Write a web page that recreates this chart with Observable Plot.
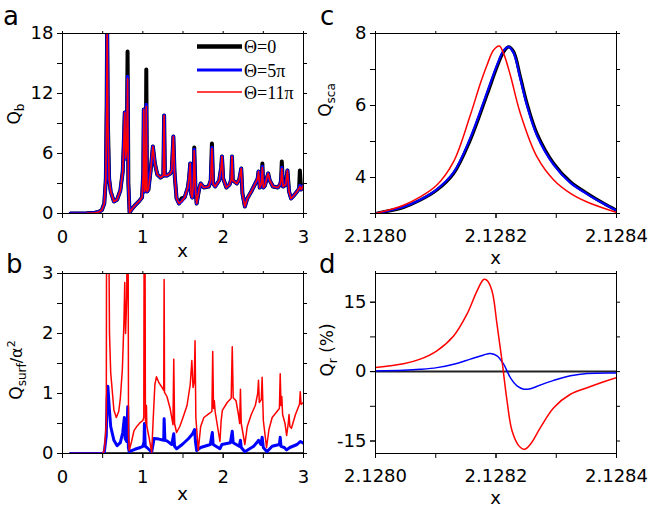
<!DOCTYPE html>
<html><head><meta charset="utf-8">
<script src="https://cdn.jsdelivr.net/npm/d3@7"></script>
<script src="https://cdn.jsdelivr.net/npm/@observablehq/plot@0.6"></script>
<style>
body{margin:0;background:#fff;}
#wrap{position:relative;width:648px;height:509px;overflow:hidden;background:#fff;}
#wrap svg{position:absolute;}
</style></head><body><div id="wrap"></div>
<script>
// ---------- Panel a: Q_b vs x ----------
const aX = [0.10,0.30,0.40,0.45,0.49,0.52,0.54,0.55,0.556,0.565,0.58,0.60,0.64,0.68,0.72,0.75,0.765,0.775,0.785,0.80,0.81,0.82,0.835,0.86,0.90,0.95,0.99,1.005,1.012,1.02,1.035,1.043,1.052,1.07,1.10,1.125,1.15,1.18,1.22,1.255,1.265,1.275,1.30,1.34,1.36,1.38,1.395,1.42,1.45,1.48,1.52,1.56,1.575,1.59,1.60,1.615,1.63,1.64,1.655,1.67,1.70,1.72,1.76,1.82,1.845,1.86,1.875,1.90,1.95,1.975,1.985,2.00,2.04,2.08,2.10,2.11,2.12,2.17,2.20,2.225,2.24,2.27,2.30,2.35,2.40,2.43,2.44,2.455,2.475,2.488,2.50,2.52,2.545,2.56,2.58,2.62,2.68,2.71,2.72,2.73,2.745,2.78,2.80,2.82,2.845,2.88,2.92,2.945,2.955,2.97,3.00];
const aTheta11 = [0,0.02,0.08,0.15,0.35,1.0,3.5,11,19,9,3.5,2.2,1.2,1.4,2.3,4.2,7.5,10.1,5.5,6.5,13.5,3,0.1,0.4,0.8,1.2,1.6,4,10.4,2.2,2.5,10.7,2.2,2.4,4.5,6.7,5.0,3.9,3.6,3.8,9.8,3.8,3.8,4.0,4.3,7.7,4.0,1.5,1.0,1.2,1.6,2.6,3.5,5.0,2.0,1.6,3.0,6.3,2.5,1.0,2.4,3.0,2.6,2.7,3.3,6.5,3.0,2.7,3.3,4.6,5.7,3.5,2.6,2.9,3.4,5.7,3.3,3.0,3.4,4.5,2.0,0.7,1.5,2.2,3.0,3.5,4.2,2.6,3.0,4.6,2.6,2.8,3.6,4.0,3.3,2.7,2.6,2.9,3.3,4.5,2.7,2.9,4.3,2.2,1.5,1.8,2.2,2.5,2.7,2.4,2.8];
const aTheta5 = [0,0.02,0.08,0.15,0.35,1.0,3.5,11,19,9,3.5,2.2,1.2,1.4,2.3,4.2,7.5,10.1,5.5,6.5,13.7,3,0.1,0.4,0.8,1.2,1.6,4,10.4,2.2,2.5,10.9,2.2,2.4,4.5,6.7,5.0,3.9,3.6,3.8,9.8,3.8,3.8,4.0,4.3,7.7,4.0,1.5,1.0,1.2,1.6,2.6,3.5,5.0,2.0,1.6,3.0,6.4,2.5,1.0,2.4,3.0,2.6,2.7,3.3,6.6,3.0,2.7,3.3,4.6,5.7,3.5,2.6,2.9,3.4,5.7,3.3,3.0,3.4,4.5,2.0,0.7,1.5,2.2,3.0,3.5,4.2,2.6,3.0,4.7,2.6,2.8,3.6,4.0,3.3,2.7,2.6,2.9,3.3,4.6,2.7,2.9,4.3,2.2,1.5,1.8,2.2,2.5,2.8,2.4,2.8];
const aTheta0 = [0,0.02,0.08,0.15,0.35,1.0,3.5,11,19,9,3.5,2.2,1.2,1.4,2.3,4.2,7.5,10.1,5.5,6.5,16.2,3,0.1,0.4,0.8,1.2,1.6,4,10.4,2.2,2.5,14.4,2.2,2.4,4.5,6.7,5.0,3.9,3.6,3.8,9.8,3.8,3.8,4.0,4.3,7.7,4.0,1.5,1.0,1.5,1.6,2.6,3.5,5.0,2.0,1.6,3.0,6.6,2.5,1.0,2.4,3.0,2.6,2.7,3.3,7.0,3.0,2.7,3.3,4.6,5.7,3.5,2.6,2.9,3.4,5.7,3.3,3.0,3.4,4.5,2.0,0.7,1.5,2.2,3.0,3.5,4.2,2.6,3.0,5.0,2.6,2.8,3.6,4.0,3.3,2.7,2.6,2.9,3.3,5.2,2.7,2.9,4.3,2.2,1.5,1.8,2.2,2.5,4.3,2.4,2.8];

// ---------- Panel b: Q_surf/alpha^2 vs x ----------
const bRedX = [0.10,0.50,0.52,0.545,0.55,0.57,0.585,0.60,0.64,0.67,0.70,0.72,0.745,0.765,0.775,0.785,0.80,0.805,0.815,0.822,0.83,0.86,0.89,0.93,0.97,1.00,1.012,1.018,1.025,1.032,1.04,1.045,1.05,1.08,1.11,1.13,1.15,1.17,1.20,1.24,1.26,1.265,1.27,1.30,1.34,1.375,1.385,1.395,1.42,1.46,1.50,1.55,1.59,1.61,1.625,1.64,1.65,1.66,1.69,1.72,1.76,1.82,1.86,1.87,1.88,1.89,1.90,1.93,1.96,1.975,1.99,2.05,2.10,2.113,2.125,2.16,2.19,2.205,2.215,2.225,2.27,2.30,2.35,2.40,2.43,2.44,2.45,2.475,2.485,2.50,2.54,2.57,2.61,2.67,2.70,2.71,2.72,2.73,2.74,2.77,2.79,2.81,2.82,2.83,2.85,2.90,2.95,2.96,2.97,3.00];
const bRed = [0,0,0.05,0.5,5,5,2.0,1.35,0.72,0.6,0.7,0.92,1.4,2.2,2.85,2.0,2.6,5,5,0.3,0.05,0.2,0.38,0.46,0.52,0.55,0.6,5,5,0.55,0.5,0.8,0.45,0.25,0.02,0.6,1.15,1.28,1.18,1.1,1.05,2.9,1.02,0.95,0.75,0.48,1.57,0.5,0.35,0.45,0.6,0.8,1.15,1.55,1.1,1.2,1.88,0.6,0.05,0.45,0.6,0.66,0.7,1.7,0.75,0.88,0.7,0.45,0.2,0.55,0.72,0.85,0.92,1.78,0.93,0.88,0.65,0.5,1.07,0.5,0.15,0.45,0.65,0.8,1.0,1.22,0.85,0.9,1.27,0.55,0.1,0.4,0.6,0.7,0.75,1.33,0.8,0.95,0.65,0.5,0.3,0.5,0.65,0.45,0.42,0.65,0.82,1.03,0.82,0.85];
const bBlueX = [0.10,0.50,0.52,0.545,0.555,0.565,0.58,0.60,0.64,0.68,0.72,0.75,0.77,0.78,0.80,0.812,0.82,0.83,0.90,0.97,1.00,1.015,1.02,1.03,1.05,1.09,1.11,1.14,1.20,1.26,1.265,1.275,1.30,1.36,1.385,1.395,1.42,1.49,1.57,1.62,1.645,1.655,1.67,1.72,1.84,1.865,1.875,1.96,1.985,2.09,2.113,2.125,2.20,2.215,2.225,2.27,2.38,2.43,2.44,2.47,2.485,2.50,2.545,2.61,2.70,2.71,2.72,2.76,2.79,2.83,2.92,2.96,3.00];
const bBlue = [0,0,0.02,0.3,0.9,1.12,0.8,0.45,0.22,0.13,0.18,0.35,0.6,0.25,0.2,0.78,0.1,0.03,0.07,0.1,0.12,0.2,0.5,0.12,0.1,0.05,0.02,0.25,0.24,0.22,0.58,0.22,0.21,0.15,0.33,0.12,0.08,0.15,0.25,0.33,0.4,0.2,0.05,0.1,0.15,0.35,0.15,0.08,0.15,0.18,0.37,0.18,0.12,0.22,0.1,0.03,0.12,0.2,0.22,0.15,0.27,0.1,0.03,0.12,0.15,0.27,0.12,0.1,0.06,0.1,0.15,0.2,0.17];
const bZeroX = [0.10, 3.00];
const bZero = [0, 0];

// ---------- Panel c: Q_sca near resonance ----------
const cX = [2.128,2.1280465,2.1280742,2.1281019,2.1281296,2.1281573,2.128185,2.1282017,2.1282127,2.1282211,2.1282294,2.1282404,2.1282515,2.1282681,2.1282958,2.1283235,2.1283512,2.1283789,2.1284];
const cTheta0 = [3.0,3.17,3.37,3.65,4.11,5.04,6.29,7.07,7.49,7.63,7.49,6.8,6.06,5.22,4.39,3.88,3.56,3.28,3.09];
const cTheta5 = [3.0,3.18,3.38,3.67,4.14,5.1,6.36,7.13,7.53,7.63,7.45,6.74,5.99,5.16,4.35,3.85,3.54,3.27,3.08];
const cRedX = [2.128,2.1280465,2.1280742,2.1281019,2.1281296,2.1281573,2.128174,2.128185,2.1281961,2.1282055,2.1282127,2.1282238,2.1282404,2.1282681,2.1282958,2.1283235,2.1283512,2.1284];
const cTheta11 = [3.0,3.23,3.46,3.79,4.44,5.73,6.61,7.12,7.54,7.65,7.44,6.84,5.78,4.57,3.93,3.56,3.32,3.03];

// ---------- Panel d: Q_r (%) ----------
const dRedX = [2.128,2.1280465,2.1280742,2.1281019,2.1281296,2.1281518,2.1281684,2.1281795,2.128185,2.1281934,2.1282017,2.12821,2.1282183,2.1282266,2.1282377,2.1282471,2.1282571,2.1282737,2.1282958,2.1283235,2.1283512,2.1283789,2.1284];
const dTheta11 = [0.86,1.7,2.7,4.5,7.7,12.4,17.4,19.9,19.7,17.4,10.2,2.3,-6.3,-12.8,-16.0,-16.8,-15.7,-12.1,-7.8,-4.9,-3.5,-2.2,-1.3];
const dBlueX = [2.128,2.1280465,2.1280742,2.1281019,2.1281296,2.1281573,2.1281795,2.1281906,2.1282017,2.1282127,2.1282238,2.1282349,2.128246,2.1282571,2.1282737,2.1282958,2.1283235,2.1283512,2.1284];
const dTheta5 = [0.15,0.3,0.5,0.86,1.6,2.7,3.6,3.9,3.4,1.6,-1.3,-3.1,-3.8,-3.7,-2.9,-1.9,-0.9,-0.4,-0.3];

// ---------- Ticks & legend ----------
const abXTicks = [0,0.5,1,1.5,2,2.5,3];
const abXLabels = [0,1,2,3];
const aYTicks = [0,3,6,9,12,15,18];
const aYLabels = [0,6,12,18];
const bYTicks = [0,0.5,1,1.5,2,2.5,3];
const bYLabels = [0,1,2,3];
const cdXTicks = [2.128,2.1281,2.1282,2.1283,2.1284];
const cdXLabels = [2.128,2.1282,2.1284];
const cYTicks = [3,4,5,6,7,8];
const cYLabels = [4,6,8];
const dYTicks = [-15,-7.5,0,7.5,15];
const dYLabels = [-15,0,15];
const legendLabels = ["\u0398=0","\u0398=5\u03c0","\u0398=11\u03c0"];
const legendColors = ["#000000","#0000ff","#ff0000"];

const RED = "#ff0000", BLUE = "#0000ff", BLACK = "#000000";
const rows = (xs, ys) => xs.map((x, i) => ({x, y: ys[i]}));

const wrap = document.getElementById("wrap");
const W = 324, H = 254, MT = 33, MB = 41;

function panel({left, top, ml, mr, xDomain, yDomain, xTicks, xLabels, xFormat, xPad, yTicks, yLabels, yFormat, marks}) {
  const svg = Plot.plot({
    width: W, height: H, marginLeft: ml, marginRight: mr, marginTop: MT, marginBottom: MB,
    style: {fontFamily: "DejaVu Sans", fontSize: "18px", background: "transparent", overflow: "visible", color: "#000"},
    x: {domain: xDomain}, y: {domain: yDomain},
    marks: [
      ...marks,
      Plot.frame({stroke: "#000", strokeWidth: 1}),
      Plot.axisX({ticks: xTicks, tickSize: 5, tickFormat: () => "", label: null}),
      Plot.axisX({ticks: xLabels, tickSize: 5, tickPadding: xPad, tickFormat: xFormat, label: null}),
      Plot.axisX({anchor: "top", ticks: xTicks, tickSize: 3, tickFormat: () => "", label: null}),
      Plot.axisY({ticks: yTicks, tickSize: 5, tickFormat: () => "", label: null}),
      Plot.axisY({ticks: yLabels, tickSize: 5, tickPadding: 4, tickFormat: yFormat, label: null}),
      Plot.axisY({anchor: "right", ticks: yTicks, tickSize: 3, tickFormat: () => "", label: null})
    ]
  });
  svg.style.left = left + "px";
  svg.style.top = top + "px";
  wrap.appendChild(svg);
  return d3.select(svg);
}

function letter(s, x, y, t) {
  s.append("text").attr("x", x).attr("y", y).attr("text-anchor", "start").attr("font-size", 26).attr("font-family", "DejaVu Sans").attr("fill", "#000").text(t);
}
function xLabel(s, cx, y) {
  s.append("text").attr("x", cx).attr("y", y).attr("text-anchor", "middle").attr("font-size", 18).attr("font-family", "DejaVu Sans").attr("fill", "#000").text("x");
}
function yLabel(s, x, y, parts) {
  const t = s.append("text").attr("transform", `translate(${x},${y}) rotate(-90)`).attr("text-anchor", "middle").attr("font-family", "DejaVu Sans").attr("fill", "#000").attr("font-size", 17);
  for (const [txt, size, dy] of parts) t.append("tspan").attr("font-size", size).attr("dy", dy).text(txt);
}

const fmtPlain = d => String(d);
const fmt4 = d3.format(".4f");

// Panel a
const sa = panel({left: 0, top: 0, ml: 62, mr: 21, xDomain: [0, 3], yDomain: [0, 18],
  xTicks: abXTicks, xLabels: abXLabels, xFormat: fmtPlain, xPad: 12, yTicks: aYTicks, yLabels: aYLabels, yFormat: fmtPlain,
  marks: [
    Plot.line(rows(aX, aTheta0), {x: "x", y: "y", stroke: BLACK, strokeWidth: 4, clip: true}),
    Plot.line(rows(aX, aTheta5), {x: "x", y: "y", stroke: BLUE, strokeWidth: 3.3, clip: true}),
    Plot.line(rows(aX, aTheta11), {x: "x", y: "y", stroke: RED, strokeWidth: 1.6, clip: true})
  ]});
letter(sa, 3, 25, "a");
xLabel(sa, 182.5, 257);
yLabel(sa, 20, 114, [["Q", 17, 0], ["b", 12, 4]]);
// legend
const legW = [4.5, 3, 1.6], legY = [46.5, 70, 92];
legendLabels.forEach((lab, i) => {
  sa.append("line").attr("x1", 197).attr("x2", 242).attr("y1", legY[i]).attr("y2", legY[i]).attr("stroke", legendColors[i]).attr("stroke-width", legW[i]);
  sa.append("text").attr("x", 244).attr("y", legY[i] + 6.5).attr("text-anchor", "start").attr("font-family", "Liberation Serif").attr("font-size", 18).attr("fill", "#000").text(lab);
});

// Panel b
const sb = panel({left: 0, top: 240, ml: 62, mr: 21, xDomain: [0, 3], yDomain: [0, 3],
  xTicks: abXTicks, xLabels: abXLabels, xFormat: fmtPlain, xPad: 12, yTicks: bYTicks, yLabels: bYLabels, yFormat: fmtPlain,
  marks: [
    Plot.line(rows(bZeroX, bZero), {x: "x", y: "y", stroke: BLACK, strokeWidth: 2.5, clip: true}),
    Plot.line(rows(bBlueX, bBlue), {x: "x", y: "y", stroke: BLUE, strokeWidth: 3, clip: true}),
    Plot.line(rows(bRedX, bRed), {x: "x", y: "y", stroke: RED, strokeWidth: 1.5, clip: true})
  ]});
letter(sb, 6, 33, "b");
xLabel(sb, 182.5, 260);
yLabel(sb, 22, 130, [["Q", 17, 0], ["surf", 12, 4], ["/\u03b1", 16, -4], ["2", 11, -7]]);

// Panel c
const sc = panel({left: 324, top: 0, ml: 51, mr: 32, xDomain: [2.128, 2.1284], yDomain: [3, 8],
  xTicks: cdXTicks, xLabels: cdXLabels, xFormat: fmt4, xPad: 11, yTicks: cYTicks, yLabels: cYLabels, yFormat: fmtPlain,
  marks: [
    Plot.line(rows(cX, cTheta0), {x: "x", y: "y", stroke: BLACK, strokeWidth: 3.2, curve: "catmull-rom", clip: true}),
    Plot.line(rows(cX, cTheta5), {x: "x", y: "y", stroke: BLUE, strokeWidth: 2.2, curve: "catmull-rom", clip: true}),
    Plot.line(rows(cRedX, cTheta11), {x: "x", y: "y", stroke: RED, strokeWidth: 1.5, curve: "catmull-rom", clip: true})
  ]});
letter(sc, -4, 25, "c");
xLabel(sc, 171.5, 264);
yLabel(sc, 7, 100, [["Q", 17, 0], ["sca", 12, 4]]);

// Panel d
const sd = panel({left: 324, top: 240, ml: 51, mr: 32, xDomain: [2.128, 2.1284], yDomain: [-17.7, 21.2],
  xTicks: cdXTicks, xLabels: cdXLabels, xFormat: fmt4, xPad: 11, yTicks: dYTicks, yLabels: dYLabels, yFormat: fmtPlain,
  marks: [
    Plot.ruleY([0], {stroke: "#222", strokeWidth: 2}),
    Plot.line(rows(dBlueX, dTheta5), {x: "x", y: "y", stroke: BLUE, strokeWidth: 1.5, curve: "catmull-rom", clip: true}),
    Plot.line(rows(dRedX, dTheta11), {x: "x", y: "y", stroke: RED, strokeWidth: 1.5, curve: "catmull-rom", clip: true})
  ]});
letter(sd, -5, 33, "d");
xLabel(sd, 171.5, 264);
yLabel(sd, 9, 110, [["Q", 17, 0], ["r", 12, 4], [" (%)", 17, -4]]);
</script></body></html>
